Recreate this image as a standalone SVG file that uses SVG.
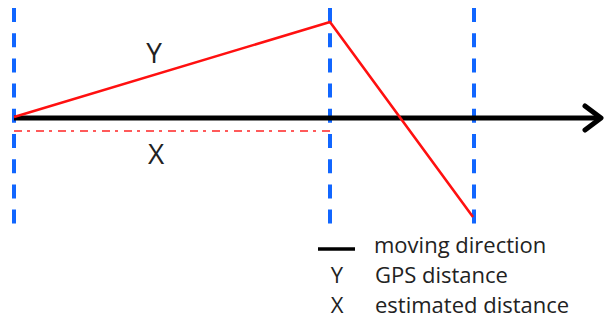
<svg xmlns="http://www.w3.org/2000/svg" width="605" height="325" viewBox="0 0 605 325">
<style>
.guide{stroke:#1166ff;stroke-width:4;stroke-dasharray:14 11.2;fill:none}
.gps{stroke:#ff1010;stroke-width:2.6;fill:none;stroke-linejoin:miter}
.est{stroke:#ff5a5a;stroke-width:2.2;stroke-dasharray:8 5 3 6;fill:none}
.axis{stroke:#000;stroke-width:5;fill:none}
.big{font-family:"Open Sans","Noto Sans",sans-serif;font-size:28px;fill:#222;text-anchor:middle}
.leg{font-family:"Open Sans","Noto Sans",sans-serif;font-size:22px;fill:#222}
</style>
<rect width="605" height="325" fill="#fff"/>
<g id="guides">
<line class="guide" x1="14" y1="8" x2="14" y2="224"/>
<line class="guide" x1="330" y1="8" x2="330" y2="224"/>
<line class="guide" x1="474" y1="8" x2="474" y2="224"/>
</g>
<g id="connectors">
<line class="axis" x1="14" y1="118" x2="600" y2="118"/>
<polyline class="axis" points="585,106 601,118 585,130" stroke-linecap="round" stroke-linejoin="round"/>
<polyline class="gps" points="14,117 330,22 473,217"/>
<line class="est" x1="14" y1="131" x2="330" y2="131"/>
</g>
<g id="labels">
<text class="big" x="154" y="63">Y</text>
<text class="big" x="156" y="164">X</text>
</g>
<g id="legend">
<line x1="318" y1="249" x2="355" y2="249" stroke="#000" stroke-width="3.5"/>
<text class="leg" x="374" y="253">moving direction</text>
<text class="leg" x="337" y="283" text-anchor="middle">Y</text>
<text class="leg" x="375" y="283">GPS distance</text>
<text class="leg" x="337" y="313" text-anchor="middle">X</text>
<text class="leg" x="375" y="313">estimated distance</text>
</g>
</svg>
